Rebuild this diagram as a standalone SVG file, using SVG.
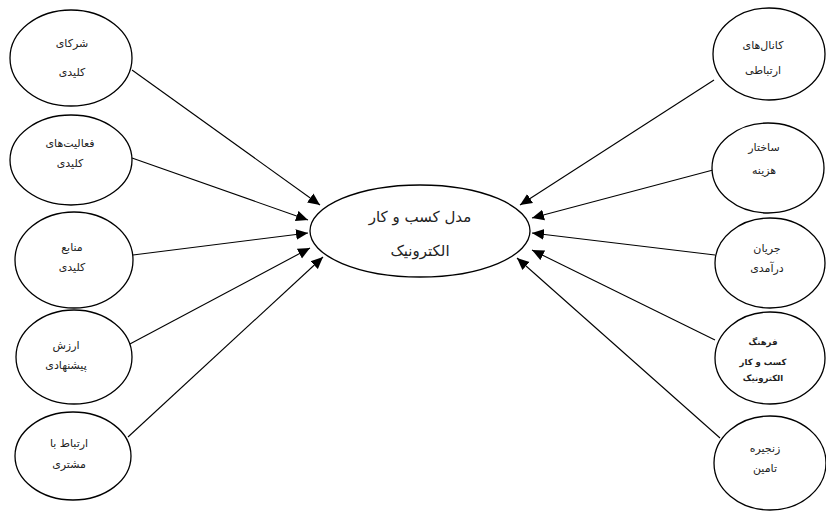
<svg xmlns="http://www.w3.org/2000/svg" width="826" height="511" viewBox="0 0 826 511">
<style>
.n{fill:#fff;stroke:#000;stroke-width:1.3}
.t{font-family:"DejaVu Sans",sans-serif;font-size:11px;fill:#222;text-anchor:middle}
.c{font-family:"DejaVu Sans",sans-serif;font-size:15px;fill:#222;text-anchor:middle}
.s{font-family:"DejaVu Sans",sans-serif;font-size:8.5px;fill:#222;text-anchor:middle;font-weight:bold}
.e{stroke:#000;stroke-width:1.1;fill:none;marker-end:url(#a)}
</style>
<defs>
<marker id="a" viewBox="0 0 10 10" refX="10" refY="5" markerWidth="12" markerHeight="12" markerUnits="userSpaceOnUse" orient="auto">
<path d="M0,0.5 L10,5 L0,9.5 Z" fill="#000"/>
</marker>
</defs>
<rect width="826" height="511" fill="#fff"/>
<g id="connectors">
<line class="e" x1="132" y1="70" x2="320" y2="205"/>
<line class="e" x1="132" y1="158" x2="308" y2="220"/>
<line class="e" x1="133" y1="255" x2="308" y2="233"/>
<line class="e" x1="128" y1="345" x2="310" y2="248"/>
<line class="e" x1="128" y1="437" x2="323" y2="257"/>
<line class="e" x1="714" y1="80" x2="520" y2="205"/>
<line class="e" x1="713" y1="170" x2="532" y2="218"/>
<line class="e" x1="715" y1="255" x2="532" y2="233"/>
<line class="e" x1="715" y1="340" x2="532" y2="250"/>
<line class="e" x1="720" y1="438" x2="517" y2="258"/>
</g>
<g id="center">
<ellipse class="n" cx="420" cy="231" rx="110" ry="46"/>
<text class="c" x="420" y="222">مدل کسب و کار</text>
<text class="c" x="420" y="256">الکترونیک</text>
</g>
<g id="n-left1">
<ellipse class="n" cx="71" cy="58" rx="61" ry="48"/>
<text class="t" x="72" y="47">شرکای</text>
<text class="t" x="72" y="76">کلیدی</text>
</g>
<g id="n-left2">
<ellipse class="n" cx="71" cy="160" rx="61" ry="45"/>
<text class="t" x="70" y="147">فعالیت‌های</text>
<text class="t" x="70" y="167">کلیدی</text>
</g>
<g id="n-left3">
<ellipse class="n" cx="74" cy="260" rx="59" ry="48"/>
<text class="t" x="72" y="251">منابع</text>
<text class="t" x="72" y="271">کلیدی</text>
</g>
<g id="n-left4">
<ellipse class="n" cx="74" cy="357" rx="58" ry="47"/>
<text class="t" x="66" y="349">ارزش</text>
<text class="t" x="66" y="369">پیشنهادی</text>
</g>
<g id="n-left5">
<ellipse class="n" cx="73" cy="456" rx="58" ry="44"/>
<text class="t" x="69" y="447">ارتباط با</text>
<text class="t" x="69" y="468">مشتری</text>
</g>
<g id="n-right1">
<ellipse class="n" cx="769" cy="54" rx="56" ry="46"/>
<text class="t" x="763" y="49">کانال‌های</text>
<text class="t" x="763" y="74">ارتباطی</text>
</g>
<g id="n-right2">
<ellipse class="n" cx="768" cy="168" rx="56" ry="45"/>
<text class="t" x="764" y="151">ساختار</text>
<text class="t" x="764" y="174">هزینه</text>
</g>
<g id="n-right3">
<ellipse class="n" cx="770" cy="263" rx="55" ry="45"/>
<text class="t" x="767" y="252">جریان</text>
<text class="t" x="767" y="272">درآمدی</text>
</g>
<g id="n-right4">
<ellipse class="n" cx="770" cy="358" rx="55" ry="46"/>
<text class="s" x="763" y="345">فرهنگ</text>
<text class="s" x="763" y="365">کسب و کار</text>
<text class="s" x="763" y="381">الکترونیک</text>
</g>
<g id="n-right5">
<ellipse class="n" cx="770" cy="463" rx="56" ry="47"/>
<text class="t" x="765" y="452">زنجیره</text>
<text class="t" x="765" y="472">تامین</text>
</g>
</svg>
